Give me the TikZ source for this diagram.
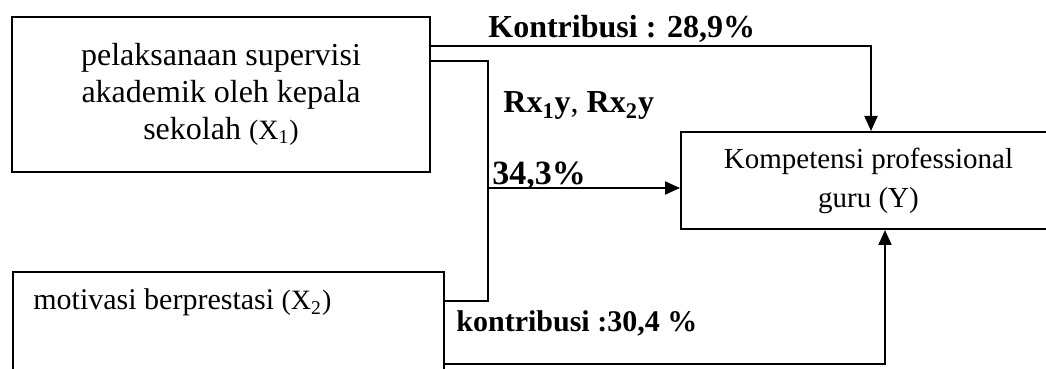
\documentclass[tikz,border=0pt]{standalone}
\usepackage{fontspec}
\setmainfont{Liberation Serif}
\usetikzlibrary{arrows.meta,calc}
\tikzset{
  box/.style={draw, line width=1pt, inner sep=0pt},
  conn/.style={line width=1pt},
  arr/.style={conn, -{Triangle[length=7.5pt,width=6.5pt]}},
  lbl/.style={anchor=base west, inner sep=0pt, font=\fontsize{16}{18.5}\selectfont\bfseries},
}
\newcommand{\smallpar}[1]{{\fontsize{14}{16}\selectfont(#1)}}
\begin{document}
\begin{tikzpicture}[x=0.5pt, y=-0.5pt]
\useasboundingbox (0,0) rectangle (1046,369);

% independent variable X1
\node[box, minimum width=209pt, minimum height=77.5pt, align=center,
      font=\fontsize{16}{18.5}\selectfont] (x1) at (221,94.5)
  {pelaksanaan supervisi\\akademik oleh kepala\\sekolah \smallpar{X\textsubscript{1}}};

% independent variable X2 (runs past the lower edge)
\node[box, minimum width=215.5pt, minimum height=70pt, anchor=north west] (x2) at (12,271) {};
\node[anchor=base west, inner sep=0pt, font=\fontsize{15}{17}\selectfont] (x2txt) at (33,310)
  {motivasi berprestasi \smallpar{X\textsubscript{2}}};

% dependent variable Y
\node[box, minimum width=187.5pt, minimum height=48.5pt, align=center,
      font=\fontsize{14.5}{19.5}\selectfont] (y) at (868.5,180.5)
  {Kompetensi professional\\guru (Y)};

% junction of the joint path
\coordinate (j) at (488,188);

% connectors
\draw[arr] ($(x1.north east)+(0,30)$) -| ($(y.north west)+(191,0)$);
\draw[conn] ($(x1.north east)+(0,45)$) -| (j) |- ($(x2.north east)+(0,30)$);
\draw[arr] (j) -- (y.west |- j);
\draw[arr] ($(x2.north east)+(0,93)$) -| ($(y.south west)+(205,0)$);

% labels
\node[lbl] (k1) at (488,38) {Kontribusi : 28,9\%};
\node[lbl] (rr) at (503,113) {Rx\textsubscript{1}y\textmd{,} Rx\textsubscript{2}y};
\node[lbl, font=\fontsize{17}{19}\selectfont\bfseries] (k12) at (492,185) {34,3\%};
\node[lbl, font=\fontsize{15}{17}\selectfont\bfseries] (k2) at (456,331) {kontribusi :30,4 \%};
\end{tikzpicture}
\end{document}
